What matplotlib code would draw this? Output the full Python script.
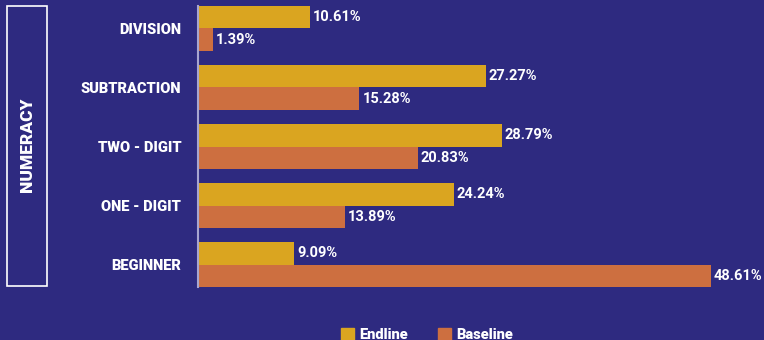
import matplotlib
matplotlib.use("Agg")
import matplotlib.pyplot as plt
import numpy as np
from matplotlib.patches import Rectangle, Patch

categories = ["BEGINNER", "ONE - DIGIT", "TWO - DIGIT", "SUBTRACTION", "DIVISION"]
endline = [9.09, 24.24, 28.79, 27.27, 10.61]
baseline = [48.61, 13.89, 20.83, 15.28, 1.39]

BG = "#2E2A80"
GOLD = "#DAA520"
ORANGE = "#CD6F40"
FONT = "Roboto"

W, H = 764, 340
fig = plt.figure(figsize=(W / 100, H / 100), dpi=100, facecolor=BG)
ax = fig.add_axes([198 / W, 1 - 287 / H, (W - 198) / W, 281 / H])
ax.set_facecolor(BG)

y = np.arange(len(categories))
bh = 0.38
ax.barh(y + bh / 2, endline, height=bh, color=GOLD, label="Endline")
ax.barh(y - bh / 2, baseline, height=bh, color=ORANGE, label="Baseline")

for yi, e, b in zip(y, endline, baseline):
    ax.text(e + 0.3, yi + bh / 2, f"{e:.2f}%", va="center", ha="left",
            color="white", fontsize=10.5, fontweight="bold", family=FONT)
    ax.text(b + 0.3, yi - bh / 2, f"{b:.2f}%", va="center", ha="left",
            color="white", fontsize=10.5, fontweight="bold", family=FONT)

ax.set_xlim(0, (W - 198) / 10.55)
ax.set_ylim(-bh, len(categories) - 1 + bh)
ax.set_yticks(y)
ax.set_yticklabels(categories, color="white", fontsize=10.5,
                   fontweight="heavy", family=FONT)
ax.tick_params(axis="y", length=0, pad=12)
ax.set_xticks([])
for side in ["top", "right", "bottom"]:
    ax.spines[side].set_visible(False)
ax.spines["left"].set_color("#A7A5D0")
ax.spines["left"].set_linewidth(1.5)

# framed section label on the left
fig.patches.append(Rectangle((7 / W, 1 - 286 / H), 40 / W, 280 / H,
                             transform=fig.transFigure, fill=False,
                             edgecolor="white", linewidth=1.2))
fig.text(27 / W, 1 - 145 / H, "NUMERACY", rotation=90, ha="center",
         va="center", color="white", fontsize=12.5, fontweight="heavy",
         family=FONT)

handles = [Patch(color=GOLD, label="Endline"), Patch(color=ORANGE, label="Baseline")]
fig.legend(handles=handles, loc="center", bbox_to_anchor=(427 / W, 1 - 335 / H),
           ncol=2, frameon=False, handlelength=0.9, handleheight=0.9,
           handletextpad=0.4, columnspacing=2.0,
           prop={"family": FONT, "weight": "heavy", "size": 10.5},
           labelcolor="white")

fig.savefig("out.png", dpi=100, facecolor=BG)
